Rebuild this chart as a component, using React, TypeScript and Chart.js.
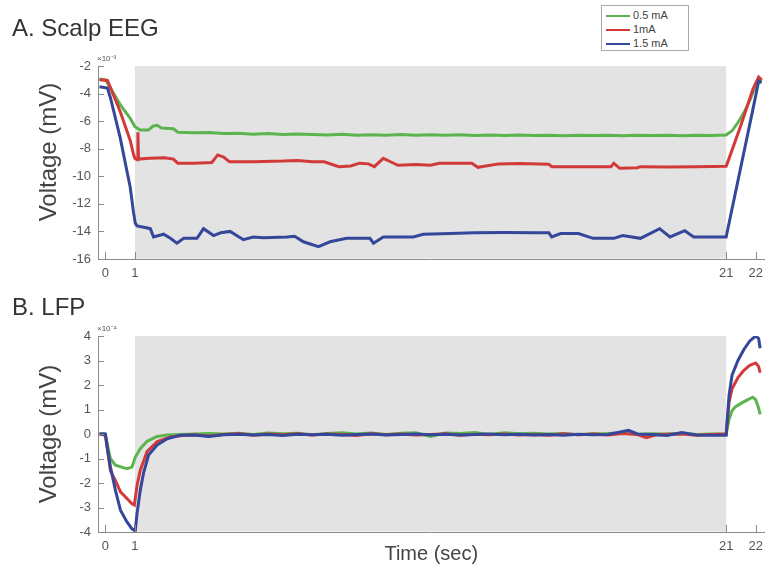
import React, { useEffect, useRef } from 'react';
import { Chart, registerables } from 'chart.js';
Chart.register(...registerables);

// ---------- data ----------
const SERIES_LABELS = ['0.5 mA', '1mA', '1.5 mA'];
const X_TICKS = [0, 1, 21, 22];
const STIM_START = 1;
const STIM_END = 21;
const EEG_Y_TICKS = [-16, -14, -12, -10, -8, -6, -4, -2];
const LFP_Y_TICKS = [-4, -3, -2, -1, 0, 1, 2, 3, 4];

const EEG_GREEN_T = [-0.2, 0.0, 0.17, 0.5, 0.84, 1.0, 1.18, 1.45, 1.62, 1.75, 1.9, 2.3, 2.45, 3.0, 3.5, 4.0, 4.5, 5.0, 5.5, 6.0, 6.5, 7.0, 7.5, 8.0, 8.5, 9.0, 9.5, 10, 10.5, 11, 11.5, 12, 12.5, 13, 13.5, 14, 14.5, 15, 15.5, 16, 16.5, 17, 17.5, 18, 18.5, 19, 19.5, 20, 20.5, 21.0, 21.2, 21.4, 21.6, 21.8, 22.0, 22.1, 22.2];
const EEG_GREEN_V = [-2.95, -3.0, -3.6, -4.8, -5.8, -6.4, -6.65, -6.65, -6.35, -6.3, -6.5, -6.55, -6.8, -6.85, -6.82, -6.9, -6.88, -6.95, -6.9, -6.96, -6.93, -6.97, -7.0, -6.95, -7.02, -6.98, -7.03, -6.97, -7.02, -6.98, -7.03, -6.99, -7.04, -7.0, -7.05, -7.01, -7.05, -7.02, -7.06, -7.03, -7.05, -7.02, -7.06, -7.03, -7.05, -7.02, -7.06, -7.03, -7.05, -7.0, -6.7, -6.1, -5.4, -4.5, -3.4, -2.9, -3.1];

const EEG_RED_T = [-0.2, 0.07, 0.5, 0.84, 0.95, 1.0, 1.08, 1.1, 1.12, 1.5, 2.0, 2.3, 2.45, 3.0, 3.6, 3.8, 4.0, 4.2, 5.0, 6.0, 6.5, 7.0, 7.4, 7.9, 8.3, 8.6, 8.9, 9.1, 9.4, 9.7, 9.9, 10.5, 11.0, 11.3, 12.4, 12.6, 13.3, 14.0, 15.0, 15.1, 16.0, 17.1, 17.2, 17.4, 18.0, 18.1, 19.0, 20.0, 21.0, 21.1, 21.5, 21.9, 22.1, 22.2];
const EEG_RED_V = [-3.0, -3.05, -5.3, -7.4, -8.4, -8.7, -8.8, -6.8, -8.75, -8.7, -8.65, -8.75, -9.05, -9.05, -9.0, -8.45, -8.6, -8.95, -8.95, -8.9, -8.85, -8.95, -8.95, -9.3, -9.25, -9.05, -9.1, -9.3, -8.7, -9.0, -9.2, -9.15, -9.2, -9.06, -9.06, -9.35, -9.1, -9.08, -9.12, -9.3, -9.3, -9.3, -9.06, -9.42, -9.38, -9.3, -9.32, -9.3, -9.28, -8.7, -6.3, -3.7, -2.8, -3.0];

const EEG_BLUE_T = [-0.2, 0.07, 0.17, 0.5, 0.84, 0.95, 1.01, 1.07, 1.3, 1.52, 1.63, 1.97, 2.2, 2.42, 2.65, 3.1, 3.32, 3.66, 3.9, 4.22, 4.67, 5.0, 5.35, 6.14, 6.4, 6.7, 7.21, 7.6, 8.16, 8.95, 9.07, 9.4, 10.42, 10.75, 11.66, 12.5, 13.5, 14.5, 15.0, 15.1, 15.4, 16.0, 16.5, 17.2, 17.5, 18.1, 18.75, 19.1, 19.6, 19.9, 21.0, 21.9, 22.1, 22.2];
const EEG_BLUE_V = [-3.5, -3.6, -4.3, -7.2, -10.8, -12.6, -13.4, -13.6, -13.7, -13.8, -14.4, -14.2, -14.5, -14.85, -14.5, -14.5, -13.8, -14.3, -14.1, -14.0, -14.6, -14.4, -14.45, -14.4, -14.35, -14.75, -15.1, -14.75, -14.5, -14.5, -14.85, -14.4, -14.4, -14.2, -14.15, -14.1, -14.08, -14.1, -14.1, -14.4, -14.15, -14.15, -14.5, -14.5, -14.3, -14.5, -13.8, -14.4, -13.95, -14.4, -14.4, -5.2, -3.1, -3.2];

const LFP_GREEN_T = [-0.2, -0.05, 0.0, 0.17, 0.34, 0.55, 0.73, 0.9, 1.01, 1.18, 1.41, 1.75, 2.08, 2.5, 3.0, 3.5, 4.0, 4.5, 5.0, 5.5, 6.0, 6.5, 7.0, 7.5, 8.0, 8.5, 9.0, 9.5, 10.0, 10.5, 11.0, 11.5, 12.0, 12.5, 13.0, 13.5, 14.0, 14.5, 15.0, 15.5, 16.0, 16.5, 17.0, 17.5, 18.0, 18.5, 19.0, 19.5, 20.0, 20.5, 21.0, 21.1, 21.2, 21.3, 21.5, 21.7, 21.9, 22.0, 22.1, 22.15];
const LFP_GREEN_V = [0.0, 0.02, -0.05, -1.0, -1.27, -1.35, -1.42, -1.35, -0.95, -0.6, -0.3, -0.1, -0.04, -0.02, 0.0, 0.02, 0.0, 0.03, -0.02, 0.04, 0.01, 0.03, -0.03, 0.02, 0.05, 0.0, 0.04, -0.02, 0.03, 0.05, -0.1, 0.04, 0.02, 0.06, -0.02, 0.05, 0.01, 0.03, 0.0, 0.02, -0.03, 0.01, 0.02, 0.05, -0.02, 0.01, 0.0, 0.03, -0.02, 0.0, 0.0, 0.6, 0.95, 1.1, 1.25, 1.38, 1.5, 1.4, 1.05, 0.8];

const LFP_RED_T = [-0.2, 0.0, 0.1, 0.17, 0.34, 0.51, 0.73, 0.9, 0.98, 1.07, 1.18, 1.41, 1.75, 2.2, 2.6, 3.0, 3.5, 4.0, 4.5, 5.0, 5.5, 6.0, 6.5, 7.0, 7.5, 8.0, 8.5, 9.0, 9.5, 10.0, 10.5, 11.0, 11.5, 12.0, 12.5, 13.0, 13.5, 14.0, 14.5, 15.0, 15.5, 16.0, 16.5, 17.0, 17.5, 18.0, 18.3, 18.6, 19.0, 19.5, 20.0, 20.5, 21.0, 21.1, 21.2, 21.4, 21.6, 21.8, 22.0, 22.1, 22.15];
const LFP_RED_V = [0.0, -0.05, -0.9, -1.5, -1.9, -2.36, -2.63, -2.85, -2.9, -2.1, -1.48, -0.72, -0.31, -0.12, -0.06, -0.03, -0.08, -0.02, 0.02, -0.05, 0.0, -0.03, 0.01, -0.04, 0.0, -0.02, -0.06, 0.01, -0.03, 0.0, -0.04, -0.02, 0.01, -0.05, -0.01, -0.03, 0.0, -0.04, -0.02, -0.05, 0.01, -0.03, 0.0, -0.04, 0.02, -0.02, -0.15, -0.04, -0.01, 0.0, -0.05, -0.02, 0.0, 1.3, 1.85, 2.3, 2.6, 2.8, 2.9, 2.75, 2.5];

const LFP_BLUE_T = [-0.2, 0.0, 0.06, 0.17, 0.34, 0.51, 0.73, 0.9, 1.01, 1.07, 1.18, 1.29, 1.46, 1.75, 2.08, 2.53, 3.0, 3.5, 4.0, 4.5, 5.0, 5.5, 6.0, 6.5, 7.0, 7.5, 8.0, 8.5, 9.0, 9.5, 10.0, 10.5, 11.0, 11.5, 12.0, 12.5, 13.0, 13.5, 14.0, 14.5, 15.0, 15.5, 16.0, 16.5, 17.0, 17.7, 18.0, 18.5, 19.0, 19.5, 20.0, 20.5, 21.0, 21.1, 21.2, 21.4, 21.6, 21.8, 22.0, 22.1, 22.15];
const LFP_BLUE_V = [0.0, 0.0, -0.52, -1.34, -2.3, -3.11, -3.59, -3.87, -3.96, -3.25, -2.3, -1.6, -0.86, -0.45, -0.2, -0.05, -0.04, -0.1, -0.03, -0.01, -0.04, -0.02, -0.06, -0.01, -0.03, -0.01, -0.05, -0.02, 0.0, -0.04, -0.02, 0.0, -0.03, -0.01, -0.04, -0.02, 0.0, -0.03, -0.01, -0.04, -0.02, -0.05, -0.01, -0.03, -0.02, 0.15, 0.0, -0.02, -0.06, 0.06, -0.04, -0.05, -0.05, 1.6, 2.4, 3.0, 3.45, 3.8, 4.0, 3.9, 3.5];

// ---------- styles ----------
const COLORS = ['#5cb44e', '#d23a3a', '#34479a'];
const BAND_COLOR = '#e3e3e3';
const AXIS_COLOR = '#8a8a8a';
const TEXT_COLOR = '#555555';
const FONT = '"Liberation Sans", Arial, Helvetica, sans-serif';
const X_MIN = -0.25;
const X_MAX = 22.3;

const pts = (t: number[], v: number[]) => t.map((x, i) => ({ x, y: v[i] }));

const decorPlugin = {
  id: 'decor',
  beforeDatasetsDraw(chart: any) {
    const { ctx, chartArea, scales } = chart;
    const x1 = scales.x.getPixelForValue(STIM_START);
    const x2 = scales.x.getPixelForValue(STIM_END);
    ctx.save();
    ctx.fillStyle = BAND_COLOR;
    ctx.fillRect(x1, chartArea.top, x2 - x1, chartArea.bottom - chartArea.top - 0.5);
    ctx.restore();
  },
  afterDraw(chart: any, _args: any, opts: any) {
    const { ctx, chartArea, scales } = chart;
    ctx.save();
    ctx.strokeStyle = AXIS_COLOR;
    ctx.lineWidth = 1;
    ctx.beginPath();
    scales.x.ticks.forEach((t: any) => {
      const p = Math.round(scales.x.getPixelForValue(t.value)) + 0.5;
      ctx.moveTo(p, chartArea.bottom);
      ctx.lineTo(p, chartArea.bottom - 7);
    });
    scales.y.ticks.forEach((t: any) => {
      const p = Math.round(scales.y.getPixelForValue(t.value)) + 0.5;
      ctx.moveTo(chartArea.left, p);
      ctx.lineTo(chartArea.left + 6, p);
    });
    ctx.stroke();
    if (opts && opts.exponent) {
      ctx.fillStyle = TEXT_COLOR;
      ctx.font = `8px ${FONT}`;
      ctx.textBaseline = 'alphabetic';
      ctx.fillText(opts.exponent, chartArea.left - 1, chartArea.top - 5);
    }
    ctx.restore();
  },
};

function makeConfig(
  sets: { t: number[]; v: number[] }[],
  yTicks: number[],
  padTop: number,
  xAxisHeight: number,
  showXTitle: boolean,
  exponent: string,
  lineWidth: number
): any {
  return {
    type: 'line',
    data: {
      datasets: sets.map((s, i) => ({
        label: SERIES_LABELS[i],
        data: pts(s.t, s.v),
        borderColor: COLORS[i],
        backgroundColor: COLORS[i],
        borderWidth: lineWidth,
        pointRadius: 0,
        tension: 0,
        fill: false,
        order: 2 - i,
      })),
    },
    options: {
      responsive: false,
      animation: false,
      devicePixelRatio: 1,
      layout: { padding: { top: padTop, right: 5, left: 0, bottom: 0 } },
      plugins: {
        legend: { display: false },
        tooltip: { enabled: false },
        decor: { exponent },
      },
      scales: {
        x: {
          type: 'linear',
          min: X_MIN,
          max: X_MAX,
          grid: { display: false, drawTicks: false },
          border: { display: true, color: AXIS_COLOR, width: 1 },
          afterBuildTicks: (scale: any) => {
            scale.ticks = X_TICKS.map((value) => ({ value }));
          },
          afterFit: (scale: any) => {
            scale.height = xAxisHeight;
          },
          ticks: {
            color: TEXT_COLOR,
            font: { family: FONT, size: 13 },
            padding: 7,
            maxRotation: 0,
            autoSkip: false,
          },
          title: {
            display: showXTitle,
            text: 'Time (sec)',
            color: '#444',
            font: { family: FONT, size: 20 },
            padding: { top: 0, bottom: 9 },
          },
        },
        y: {
          type: 'linear',
          min: yTicks[0],
          max: yTicks[yTicks.length - 1],
          grid: { display: false, drawTicks: false },
          border: { display: true, color: AXIS_COLOR, width: 1 },
          afterBuildTicks: (scale: any) => {
            scale.ticks = yTicks.map((value) => ({ value }));
          },
          afterFit: (scale: any) => {
            scale.width = 98;
          },
          ticks: {
            color: TEXT_COLOR,
            font: { family: FONT, size: 13 },
            padding: 7,
            autoSkip: false,
          },
          title: { display: false },
        },
      },
    },
    plugins: [decorPlugin],
  };
}

function ChartCanvas({ config, width, height, top }: { config: any; width: number; height: number; top: number }) {
  const ref = useRef<HTMLCanvasElement | null>(null);
  useEffect(() => {
    if (!ref.current) return;
    const chart = new Chart(ref.current, config);
    return () => chart.destroy();
  }, [config]);
  return (
    <canvas
      ref={ref}
      width={width}
      height={height}
      style={{ position: 'absolute', left: 0, top, width, height }}
    />
  );
}

const eegConfig = makeConfig(
  [
    { t: EEG_GREEN_T, v: EEG_GREEN_V },
    { t: EEG_RED_T, v: EEG_RED_V },
    { t: EEG_BLUE_T, v: EEG_BLUE_V },
  ],
  EEG_Y_TICKS,
  66,
  31,
  false,
  '×10⁻³',
  3
);

const lfpConfig = makeConfig(
  [
    { t: LFP_GREEN_T, v: LFP_GREEN_V },
    { t: LFP_RED_T, v: LFP_RED_V },
    { t: LFP_BLUE_T, v: LFP_BLUE_V },
  ],
  LFP_Y_TICKS,
  46,
  43,
  true,
  '×10⁻⁴',
  3
);

function YTitle({ cy }: { cy: number }) {
  return (
    <div
      style={{
        position: 'absolute',
        left: 48,
        top: cy,
        transform: 'translate(-50%, -50%) rotate(-90deg)',
        fontFamily: FONT,
        fontSize: 24,
        color: '#444',
        whiteSpace: 'nowrap',
        lineHeight: '28px',
      }}
    >
      Voltage (mV)
    </div>
  );
}

export default function App() {
  const titleStyle: React.CSSProperties = {
    position: 'absolute',
    left: 12,
    fontFamily: FONT,
    fontSize: 24,
    color: '#333',
    lineHeight: '28px',
    margin: 0,
    whiteSpace: 'nowrap',
  };
  return (
    <div style={{ position: 'absolute', left: 0, top: 0, width: 770, height: 575, background: '#fff', overflow: 'hidden' }}>
      <ChartCanvas config={eegConfig} width={770} height={290} top={0} />
      <ChartCanvas config={lfpConfig} width={770} height={285} top={290} />
      <div style={{ ...titleStyle, top: 14 }}>A. Scalp EEG</div>
      <div style={{ ...titleStyle, top: 293 }}>B. LFP</div>
      <YTitle cy={152} />
      <YTitle cy={434} />
      <div
        style={{
          position: 'absolute',
          left: 601,
          top: 5,
          width: 88,
          height: 46,
          border: '1px solid #aaa',
          background: '#fff',
          boxSizing: 'border-box',
        }}
      >
        {SERIES_LABELS.map((lab, i) => (
          <div key={lab} style={{ position: 'absolute', left: 4, top: 3 + i * 14, height: 13, display: 'flex', alignItems: 'center' }}>
            <div style={{ width: 24, height: 2, background: COLORS[i], marginRight: 3 }} />
            <span style={{ fontFamily: FONT, fontSize: 11, color: '#444', lineHeight: '13px' }}>{lab}</span>
          </div>
        ))}
      </div>
    </div>
  );
}
